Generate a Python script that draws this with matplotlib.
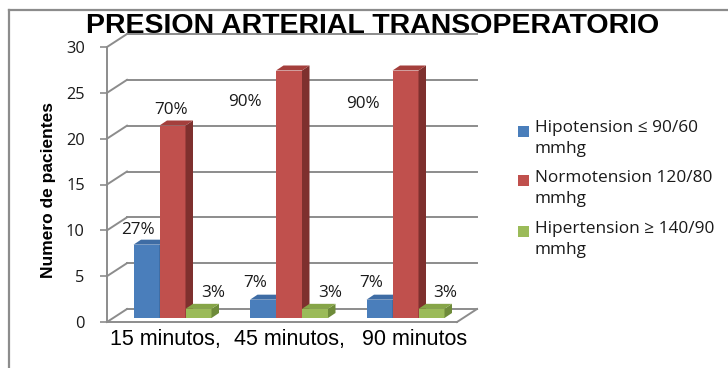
import matplotlib
matplotlib.use("Agg")
import matplotlib.pyplot as plt
from matplotlib.patches import Polygon, Rectangle
from matplotlib.lines import Line2D
import numpy as np

# ---------------- data ----------------
categories = ["15 minutos,", "45 minutos,", "90 minutos"]
series_names = ["Hipotension \u2264 90/60\nmmhg",
                "Normotension 120/80\nmmhg",
                "Hipertension \u2265 140/90\nmmhg"]
hipotension = [8, 2, 2]
normotension = [21, 27, 27]
hipertension = [1, 1, 1]
pct_hipo = ["27%", "7%", "7%"]
pct_normo = ["70%", "90%", "90%"]
pct_hiper = ["3%", "3%", "3%"]
y_ticks = [0, 5, 10, 15, 20, 25, 30]

# ---------------- style ----------------
front_colors = ["#4A7EBB", "#C0504D", "#9BBB59"]
side_colors = ["#345F92", "#7E302E", "#6E8B3A"]
top_colors = ["#3E6CA4", "#A43F3C", "#86A548"]
grid_color = "#8C8C8C"
# label offsets in pixels (dx, dy) relative to top-centre of each bar
label_offsets = [
    [(-9, 15), (-1, 16), (15, 16)],
    [(-8, 17), (-44, -31), (15, 16)],
    [(-8, 17), (-43, -34), (14, 16)],
]
# x tick label shifts in pixels
xlabel_shift_px = [-7, 0, 9]

W, H = 728, 368
fig = plt.figure(figsize=(W / 100, H / 100), dpi=100)
fig.patch.set_facecolor("white")

def fx(px):
    return px / W

def fy(py):
    return 1 - py / H

# border (left and top edges visible)
fig.add_artist(Line2D([fx(9), fx(9)], [fy(10), 0], color="#8C8C8C", lw=1.6,
                      transform=fig.transFigure))
fig.add_artist(Line2D([fx(9), 1], [fy(10), fy(10)], color="#8C8C8C", lw=1.6,
                      transform=fig.transFigure))

x_left_px, x_right_px = 107, 457
y0_px, y30_px = 322, 47
ax = fig.add_axes([fx(x_left_px), fy(y0_px),
                   (x_right_px - x_left_px) / W, (y0_px - y30_px) / H])
ax.set_facecolor("none")
group_px = 116.5
ypx = (y0_px - y30_px) / 30.0
xmin = -(172.5 - x_left_px) / group_px
xmax = xmin + (x_right_px - x_left_px) / group_px
ax.set_xlim(xmin, xmax)
ax.set_ylim(0, 30)

for s in ["top", "right"]:
    ax.spines[s].set_visible(False)
for s in ["left", "bottom"]:
    ax.spines[s].set_color(grid_color)
    ax.spines[s].set_linewidth(1.4)

# wall / floor (3D look)
wdx = 20 / group_px
wdy = 13 / ypx
for t in y_ticks:
    ax.plot([xmin, xmin + wdx], [t, t + wdy], color=grid_color, lw=1.4,
            clip_on=False, zorder=1)
    ax.plot([xmin + wdx, xmax + wdx], [t + wdy, t + wdy], color=grid_color,
            lw=1.4, clip_on=False, zorder=1)
ax.plot([xmax, xmax + wdx], [0, wdy], color=grid_color, lw=1.4,
        clip_on=False, zorder=1)

# bars
bw = 26 / group_px
bdx = 7.5 / group_px
bdy = 5 / ypx
lift = 4 / ypx
xg = np.arange(len(categories))
series = [hipotension, normotension, hipertension]
pcts = [pct_hipo, pct_normo, pct_hiper]
for i, vals in enumerate(series):
    xs = xg + (i - 1) * bw
    z = 3 + 2 * i
    ax.bar(xs, vals, width=bw, bottom=lift, color=front_colors[i],
           zorder=z, linewidth=0, label=series_names[i])
    for g, (x, v) in enumerate(zip(xs, vals)):
        x0, x1 = x - bw / 2, x + bw / 2
        ytop = lift + v
        side = Polygon([(x1, lift), (x1, ytop), (x1 + bdx, ytop + bdy),
                        (x1 + bdx, lift + bdy)], closed=True,
                       facecolor=side_colors[i], edgecolor="none",
                       zorder=z + 1, clip_on=False)
        top = Polygon([(x0, ytop), (x1, ytop), (x1 + bdx, ytop + bdy),
                       (x0 + bdx, ytop + bdy)], closed=True,
                      facecolor=top_colors[i], edgecolor="none",
                      zorder=z + 1, clip_on=False)
        ax.add_patch(side)
        ax.add_patch(top)
        ox, oy = label_offsets[g][i]
        ax.annotate(pcts[i][g], xy=(x, ytop), xytext=(ox * 0.72, oy * 0.72),
                    textcoords="offset points", ha="center", va="center",
                    fontsize=12.3, family=["Open Sans", "DejaVu Sans"],
                    color="#1a1a1a", zorder=20, annotation_clip=False)

# axes ticks / labels
ax.set_yticks(y_ticks)
ax.set_yticklabels([str(t) for t in y_ticks], family=["Open Sans", "DejaVu Sans"],
                   fontsize=11.8, color="#1a1a1a")
ax.tick_params(axis="y", direction="out", length=5, width=1.2, color=grid_color,
               pad=11)
ax.set_xticks(xg + np.array(xlabel_shift_px) / group_px)
ax.set_xticklabels(categories, family=["Liberation Sans", "DejaVu Sans"],
                   fontsize=15.5, color="#000000")
ax.tick_params(axis="x", length=0, pad=5)

fig.text(fx(49), fy(190), "Numero de pacientes", rotation=90, ha="center",
         va="center", fontsize=12.5, fontweight="bold",
         family=["Liberation Sans", "DejaVu Sans"])

fig.text(fx(373), fy(26), "PRESION ARTERIAL TRANSOPERATORIO", ha="center",
         va="center", fontsize=20.5, fontweight="bold",
         family=["Liberation Sans", "DejaVu Sans"])

# legend (square aligned to first text line)
leg_y = [131, 181, 232]
for i, name in enumerate(series_names):
    fig.add_artist(Rectangle((fx(518), fy(leg_y[i] + 5.5)), 11 / W, 11 / H,
                             transform=fig.transFigure,
                             facecolor=front_colors[i], edgecolor="none"))
    fig.text(fx(535), fy(leg_y[i] - 11), name, ha="left", va="top",
             fontsize=12.4, linespacing=1.38,
             family=["Open Sans", "DejaVu Sans"], color="#1a1a1a")

fig.savefig("out.png", dpi=100)
